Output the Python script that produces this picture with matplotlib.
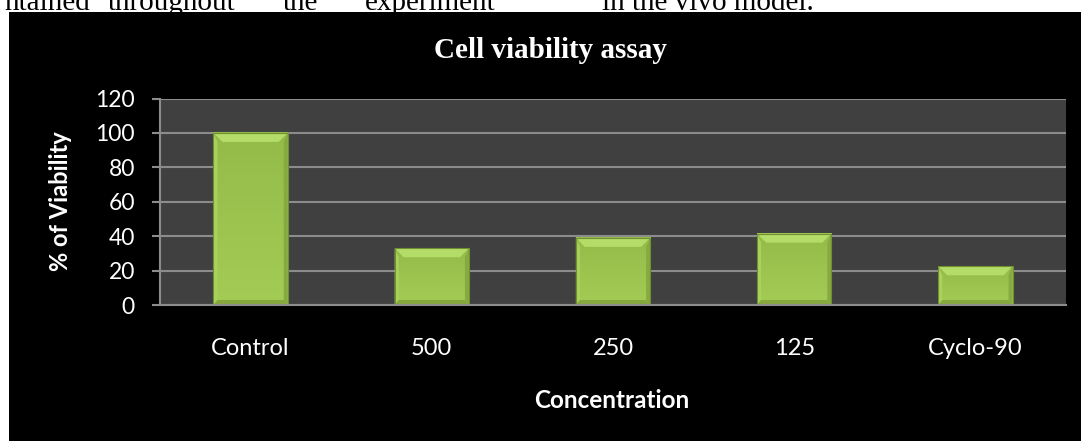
import matplotlib
matplotlib.use("Agg")
import matplotlib.pyplot as plt
import numpy as np
from matplotlib.patches import Rectangle, Polygon
from matplotlib.colors import LinearSegmentedColormap

# Cell viability (%) per treatment group
categories = ["Control", "500", "250", "125", "Cyclo-90"]
viability = [100, 33, 39, 41.5, 22.5]
y_ticks = [0, 20, 40, 60, 80, 100, 120]

W, H, DPI = 1081, 441, 100
fig = plt.figure(figsize=(W / DPI, H / DPI), dpi=DPI)
fig.patch.set_facecolor("white")

# running text of the page above the chart
serif = "Liberation Serif"
words = [("ntained", 90, "right"), ("throughout", 172, "center"), ("the", 300, "center"),
         ("experiment", 430, "center"), ("in the vivo model.", 708, "center")]
for w, xp, ha in words:
    fig.text(xp / W, 1 - 10 / H, w, ha=ha, va="baseline", family=serif,
             fontsize=21, color="black")

# black chart frame
fig.patches.append(Rectangle((9 / W, 0), 1 - 9 / W, (H - 12) / H,
                             transform=fig.transFigure, facecolor="black",
                             edgecolor="none", zorder=-1))

ax_l, ax_r, ax_t, ax_b = 160, 1066, 98.5, 305
ax = fig.add_axes([ax_l / W, (H - ax_b) / H, (ax_r - ax_l) / W, (ax_b - ax_t) / H])
ax.set_zorder(1)
ax.set_facecolor("#404040")

x = np.arange(len(categories))
bar_w = 0.41
bars = ax.bar(x, viability, width=bar_w, color="#9cc54f", zorder=3)
ax.set_xlim(-0.5, len(categories) - 0.5)
ax.set_ylim(0, 120)

# pixel -> data conversion for bevel sizes
px_x = len(categories) / (ax_r - ax_l)
px_y = 120 / (ax_b - ax_t)

grad = np.linspace(0, 1, 64).reshape(-1, 1)
face_cmap = LinearSegmentedColormap.from_list("face", ["#a3cc55", "#94bb49"])

for rect in bars:
    x0 = rect.get_x()
    w = rect.get_width()
    h = rect.get_height()
    # vertical gradient on the face
    ax.imshow(grad, cmap=face_cmap, aspect="auto", extent=(x0, x0 + w, h, 0),
              zorder=3.1, interpolation="bilinear")
    bx, by = 9 * px_x, 9 * px_y
    sx = 4 * px_x
    bb = 5 * px_y
    # top bevel (light)
    ax.add_patch(Polygon([(x0, h), (x0 + w, h), (x0 + w - bx, h - by), (x0 + bx, h - by)],
                         closed=True, facecolor="#b4dc69", edgecolor="none", zorder=3.3))
    # side bevels
    ax.add_patch(Polygon([(x0, h), (x0 + sx, h - by), (x0 + sx, bb), (x0, 0)],
                         closed=True, facecolor="#a9d25c", edgecolor="none", zorder=3.2))
    ax.add_patch(Polygon([(x0 + w, h), (x0 + w - sx, h - by), (x0 + w - sx, bb), (x0 + w, 0)],
                         closed=True, facecolor="#86aa3f", edgecolor="none", zorder=3.2))
    # bottom bevel (dark)
    ax.add_patch(Polygon([(x0, 0), (x0 + w, 0), (x0 + w - sx, bb), (x0 + sx, bb)],
                         closed=True, facecolor="#86a83f", edgecolor="none", zorder=3.3))
    # thin outline
    ax.add_patch(Rectangle((x0, 0), w, h, facecolor="none", edgecolor="#6f8f30",
                           linewidth=0.8, zorder=3.4))

ax.set_yticks(y_ticks)
ax.yaxis.grid(True, color="#8c8c8c", linewidth=1.5, zorder=1)
ax.set_axisbelow(True)
ax.set_xticks(x)
ax.set_xticklabels(categories)

sans = "Lato"
for s in ["top", "right"]:
    ax.spines[s].set_visible(False)
for s in ["left", "bottom"]:
    ax.spines[s].set_color("#8c8c8c")
    ax.spines[s].set_linewidth(1.5)
    ax.spines[s].set_zorder(5)

ax.tick_params(axis="y", length=6, width=1.5, color="#8c8c8c", pad=12,
               labelsize=16.5, labelcolor="white")
ax.tick_params(axis="x", length=0, pad=24, labelsize=17, labelcolor="white")
for lbl in ax.get_xticklabels() + ax.get_yticklabels():
    lbl.set_family(sans)

fig.text(61 / W, 1 - 201.5 / H, "% of Viability", family=sans, fontweight="bold",
         fontsize=17, color="white", rotation=90, ha="center", va="center")
fig.text(612 / W, 1 - 400 / H, "Concentration", family=sans, fontweight="bold",
         fontsize=17.5, color="white", ha="center", va="center")
fig.text(550 / W, 1 - 50 / H, "Cell viability assay", family=serif, fontweight="bold",
         fontsize=21, color="white", ha="center", va="center")

fig.savefig("out.png", dpi=DPI, facecolor=fig.get_facecolor())
